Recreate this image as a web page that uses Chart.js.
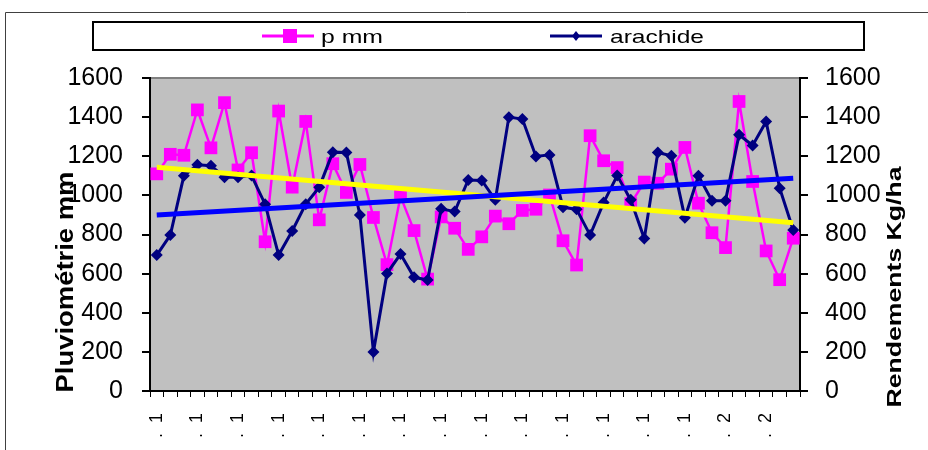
<!DOCTYPE html>
<html>
<head>
<meta charset="utf-8">
<script src="https://cdn.jsdelivr.net/npm/chart.js@4.4.0/dist/chart.umd.min.js"></script>
<style>
  html, body { margin: 0; padding: 0; background: #fff; }
  #wrap { width: 928px; height: 450px; }
</style>
</head>
<body>
<div id="wrap"><canvas id="rainChart" width="928" height="450"></canvas></div>
<script>
// campaigns (only the first digit of every third one shows on the axis)
const years = [
  1959, 1960, 1961, 1962, 1963, 1964, 1965, 1966, 1967, 1968, 1969, 1970,
  1971, 1972, 1973, 1974, 1975, 1976, 1977, 1978, 1979, 1980, 1981, 1982,
  1983, 1984, 1985, 1986, 1987, 1988, 1989, 1990, 1991, 1992, 1993, 1994,
  1995, 1996, 1997, 1998, 1999, 2000, 2001, 2002, 2003, 2004, 2005, 2006
];

// p mm (left axis)
const pluie = [
  1110, 1210, 1205, 1437, 1243, 1474, 1130, 1218, 763, 1431, 1042, 1378,
  875, 1162, 1015, 1158, 887, 646, 995, 820, 572, 890, 832, 724,
  788, 894, 855, 923, 929, 1002, 768, 644, 1305, 1177, 1142, 958,
  1068, 1062, 1134, 1245, 960, 809, 733, 1480, 1071, 716, 569, 781
];

// arachide Kg/ha (right axis)
const arachide = [
  695, 797, 1100, 1156, 1152, 1093, 1093, 1101, 955, 695, 818, 955,
  1042, 1221, 1219, 900, 200, 601, 700, 581, 567, 931, 917, 1079,
  1076, 977, 1400, 1390, 1199, 1207, 939, 929, 797, 963, 1101, 977,
  779, 1219, 1202, 886, 1100, 973, 973, 1310, 1255, 1378, 1037, 823
];

// linear trend lines, start / end values
const pluieTrend = [1144, 860];
const arachideTrend = [900, 1088];

const yMin = 0, yMax = 1600, yStep = 200;

const FONT = "'Liberation Sans', Arial, sans-serif";
Chart.defaults.font.family = FONT;
Chart.defaults.color = '#000';

function trendPoints(ends) {
  return [
    { x: years[0], y: ends[0] },
    { x: years[years.length - 1], y: ends[1] }
  ];
}

// draw a text stretched to a given length (Excel-like squashed fonts)
function fitText(ctx, text, x, y, font, len, angle, align) {
  ctx.save();
  ctx.translate(x, y);
  ctx.rotate(angle);
  ctx.font = font;
  ctx.textAlign = align;
  ctx.textBaseline = 'alphabetic';
  const w = ctx.measureText(text).width;
  ctx.scale(len / w, 1);
  ctx.fillStyle = '#000';
  ctx.fillText(text, 0, 0);
  ctx.restore();
}

const decor = {
  id: 'decor',
  beforeDraw(chart) {
    const { ctx, chartArea: a } = chart;
    ctx.save();
    ctx.fillStyle = '#fff';
    ctx.fillRect(0, 0, chart.width, chart.height);
    ctx.fillStyle = '#c0c0c0';
    ctx.fillRect(a.left, a.top, a.right - a.left, a.bottom - a.top);
    ctx.strokeStyle = '#808080';
    ctx.lineWidth = 2;
    ctx.beginPath();
    ctx.moveTo(a.left, a.top);
    ctx.lineTo(a.right, a.top);
    ctx.stroke();
    // outer chart frame
    ctx.strokeStyle = '#404040';
    ctx.lineWidth = 1;
    ctx.beginPath();
    ctx.moveTo(5.5, chart.height);
    ctx.lineTo(5.5, 12.5);
    ctx.lineTo(chart.width, 12.5);
    ctx.stroke();
    ctx.restore();
  },
  afterDraw(chart) {
    const ctx = chart.ctx;
    const ds = chart.data.datasets;
    ctx.save();
    // legend box
    ctx.strokeStyle = '#000';
    ctx.lineWidth = 2;
    ctx.strokeRect(93, 22, 771, 28);

    // p mm
    ctx.strokeStyle = ds[0].borderColor;
    ctx.lineWidth = 3;
    ctx.beginPath();
    ctx.moveTo(262, 36);
    ctx.lineTo(314, 36);
    ctx.stroke();
    ctx.fillStyle = ds[0].pointBackgroundColor;
    ctx.fillRect(283, 29, 14, 14);
    fitText(ctx, 'p mm', 321, 43, '19px ' + FONT, 62, 0, 'left');

    // arachide
    ctx.strokeStyle = ds[1].borderColor;
    ctx.lineWidth = 3;
    ctx.beginPath();
    ctx.moveTo(550, 36);
    ctx.lineTo(602, 36);
    ctx.stroke();
    ctx.fillStyle = ds[1].pointBackgroundColor;
    ctx.beginPath();
    ctx.moveTo(576, 31);
    ctx.lineTo(580, 36);
    ctx.lineTo(576, 41);
    ctx.lineTo(572, 36);
    ctx.closePath();
    ctx.fill();
    fitText(ctx, 'arachide', 610, 43, '19px ' + FONT, 94, 0, 'left');

    // axis titles
    fitText(ctx, 'Pluviométrie mm', 73, 282, 'bold 24px ' + FONT, 221, -Math.PI / 2, 'center');
    fitText(ctx, 'Rendements Kg/ha', 901, 287, 'bold 21px ' + FONT, 241, -Math.PI / 2, 'center');
    ctx.restore();
  }
};

new Chart(document.getElementById('rainChart'), {
  type: 'line',
  data: {
    labels: years,
    datasets: [
      {
        label: 'p mm',
        data: pluie,
        yAxisID: 'y',
        borderColor: '#ff00ff',
        backgroundColor: '#ff00ff',
        pointBackgroundColor: '#ff00ff',
        pointBorderColor: '#ff00ff',
        borderWidth: 2.5,
        pointStyle: 'rect',
        pointRadius: 9,
        pointBorderWidth: 0,
        tension: 0,
        order: 4
      },
      {
        label: 'arachide',
        data: arachide,
        yAxisID: 'y1',
        borderColor: '#000080',
        backgroundColor: '#000080',
        pointBackgroundColor: '#000080',
        pointBorderColor: '#000080',
        borderWidth: 3,
        pointStyle: 'rectRot',
        pointRadius: 6,
        pointBorderWidth: 0,
        tension: 0,
        order: 3
      },
      {
        label: 'tendance p mm',
        data: trendPoints(pluieTrend),
        yAxisID: 'y',
        borderColor: '#ffff00',
        borderWidth: 5,
        pointRadius: 0,
        order: 2
      },
      {
        label: 'tendance arachide',
        data: trendPoints(arachideTrend),
        yAxisID: 'y1',
        borderColor: '#0000ff',
        borderWidth: 5,
        pointRadius: 0,
        order: 1
      }
    ]
  },
  options: {
    responsive: false,
    devicePixelRatio: 1,
    animation: false,
    layout: { padding: { top: 78, left: 0, right: 0, bottom: 0 } },
    plugins: {
      legend: { display: false },
      tooltip: { enabled: false }
    },
    scales: {
      x: {
        offset: true,
        grid: { offset: true, drawOnChartArea: false, drawTicks: true, tickLength: 6, color: '#000', lineWidth: 1 },
        border: { display: true, color: '#000', width: 2 },
        ticks: {
          autoSkip: false,
          maxRotation: 90,
          minRotation: 90,
          padding: 16,
          font: { size: 18 },
          color: '#000',
          callback: (v, i) => (i % 3 === 0 ? '.  ' + String(years[i]).charAt(0) : '')
        },
        afterFit: s => { s.height = 59; }
      },
      y: {
        position: 'left',
        min: yMin,
        max: yMax,
        ticks: { stepSize: yStep, padding: 19, font: { size: 25 }, color: '#000', callback: v => String(v) },
        grid: { drawOnChartArea: false, tickLength: 8, color: '#000', lineWidth: 2 },
        border: { display: true, color: '#000', width: 2 },
        afterFit: s => { s.width = 150; }
      },
      y1: {
        position: 'right',
        min: yMin,
        max: yMax,
        ticks: { stepSize: yStep, padding: 17, font: { size: 25 }, color: '#000', callback: v => String(v) },
        grid: { drawOnChartArea: false, tickLength: 8, color: '#000', lineWidth: 2 },
        border: { display: true, color: '#000', width: 2 },
        afterFit: s => { s.width = 128; }
      }
    }
  },
  plugins: [decor]
});
</script>
</body>
</html>
